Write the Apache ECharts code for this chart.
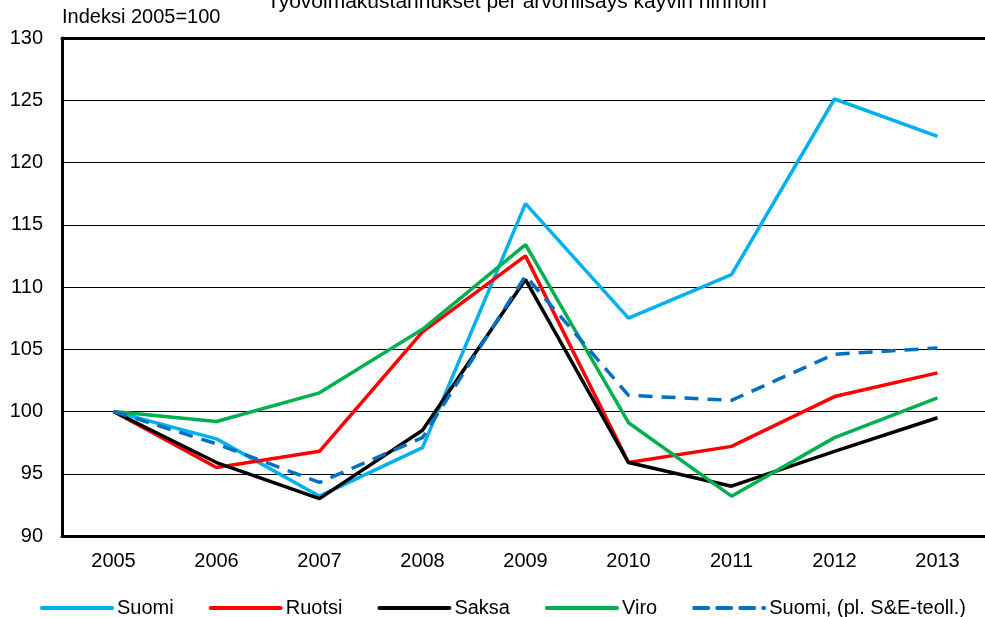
<!DOCTYPE html>
<html>
<head>
<meta charset="utf-8">
<script src="https://cdn.jsdelivr.net/npm/echarts@6/dist/echarts.min.js"></script>
<style>
    html, body { margin: 0; padding: 0; background: #fff; }
    #myCharts { width: 985px; height: 617px; }
</style>
</head>
<body>
<div id="myCharts"></div>
<script>
    // vuodet ja indeksit (2005=100)
    var years = ['2005', '2006', '2007', '2008', '2009', '2010', '2011', '2012', '2013'];
    var suomi = [100, 97.8, 93.2, 97.1, 116.7, 107.5, 111.0, 125.1, 122.1];
    var ruotsi = [100, 95.5, 96.8, 106.4, 112.5, 95.9, 97.2, 101.2, 103.1];
    var saksa = [100, 95.9, 93.0, 98.5, 110.6, 95.9, 94.0, 96.8, 99.5];
    var viro = [100, 99.2, 101.5, 106.6, 113.4, 99.1, 93.2, 97.9, 101.1];
    var suomiIlmanSE = [100, 97.4, 94.3, 97.9, 110.9, 101.3, 100.9, 104.6, 105.1];
    var yTicks = [90, 95, 100, 105, 110, 115, 120, 125, 130];

    var fontFamily = '"Liberation Sans", Arial, sans-serif';

    function lineSerie(name, data, color, dashed) {
        return {
            name: name,
            type: 'line',
            xAxisIndex: 0,
            data: data,
            symbol: 'none',
            smooth: false,
            lineStyle: {
                color: color,
                width: 3.5,
                type: dashed ? [14, 9] : 'solid'
            },
            itemStyle: { color: color }
        };
    }

    var myChart = echarts.init(document.getElementById('myCharts'));
    var options = {
        animation: false,
        textStyle: { fontFamily: fontFamily },
        title: {
            text: 'Työvoimakustannukset per arvonlisäys käyvin hinnoin',
            left: 262,
            top: -13,
            textStyle: { fontSize: 21, fontWeight: 'normal', color: '#000', fontFamily: fontFamily }
        },
        graphic: [{
            type: 'text',
            left: 62,
            top: 7,
            style: { text: 'Indeksi 2005=100', fontSize: 20, fill: '#000', fontFamily: fontFamily }
        }],
        grid: {
            left: 62,
            top: 38,
            width: 927,
            height: 498,
            outerBoundsMode: 'none',
            show: false
        },
        legend: {
            left: 35,
            top: 593,
            itemWidth: 70,
            itemHeight: 14,
            itemGap: 35,
            itemStyle: { opacity: 0 },
            lineStyle: { width: 4, cap: 'round' },
            textStyle: { fontSize: 20, color: '#000', fontFamily: fontFamily },
            data: ['Suomi', 'Ruotsi', 'Saksa', 'Viro', 'Suomi, (pl. S&E-teoll.)']
        },
        xAxis: [{
            type: 'category',
            data: years,
            boundaryGap: true,
            axisLine: { lineStyle: { color: '#000', width: 3 } },
            axisTick: { inside: true, length: 6, lineStyle: { color: '#000', width: 1 } },
            axisLabel: { fontSize: 20, color: '#000', margin: 15, fontFamily: fontFamily }
        }, {
            // ylärajan paksu viiva
            type: 'category',
            data: years,
            position: 'top',
            axisLine: { lineStyle: { color: '#000', width: 3 } },
            axisTick: { show: false },
            axisLabel: { show: false }
        }],
        yAxis: {
            type: 'value',
            min: yTicks[0],
            max: yTicks[yTicks.length - 1],
            interval: 5,
            axisLine: { show: true, lineStyle: { color: '#000', width: 3 } },
            axisTick: { show: false },
            splitLine: { lineStyle: { color: '#000', width: 1 } },
            axisLabel: { fontSize: 20, color: '#000', margin: 19, fontFamily: fontFamily }
        },
        series: [
            lineSerie('Suomi', suomi, '#00B0F0', false),
            lineSerie('Ruotsi', ruotsi, '#FF0000', false),
            lineSerie('Saksa', saksa, '#000000', false),
            lineSerie('Viro', viro, '#00B050', false),
            lineSerie('Suomi, (pl. S&E-teoll.)', suomiIlmanSE, '#0070C0', true)
        ]
    };
    myChart.setOption(options);
</script>
</body>
</html>
